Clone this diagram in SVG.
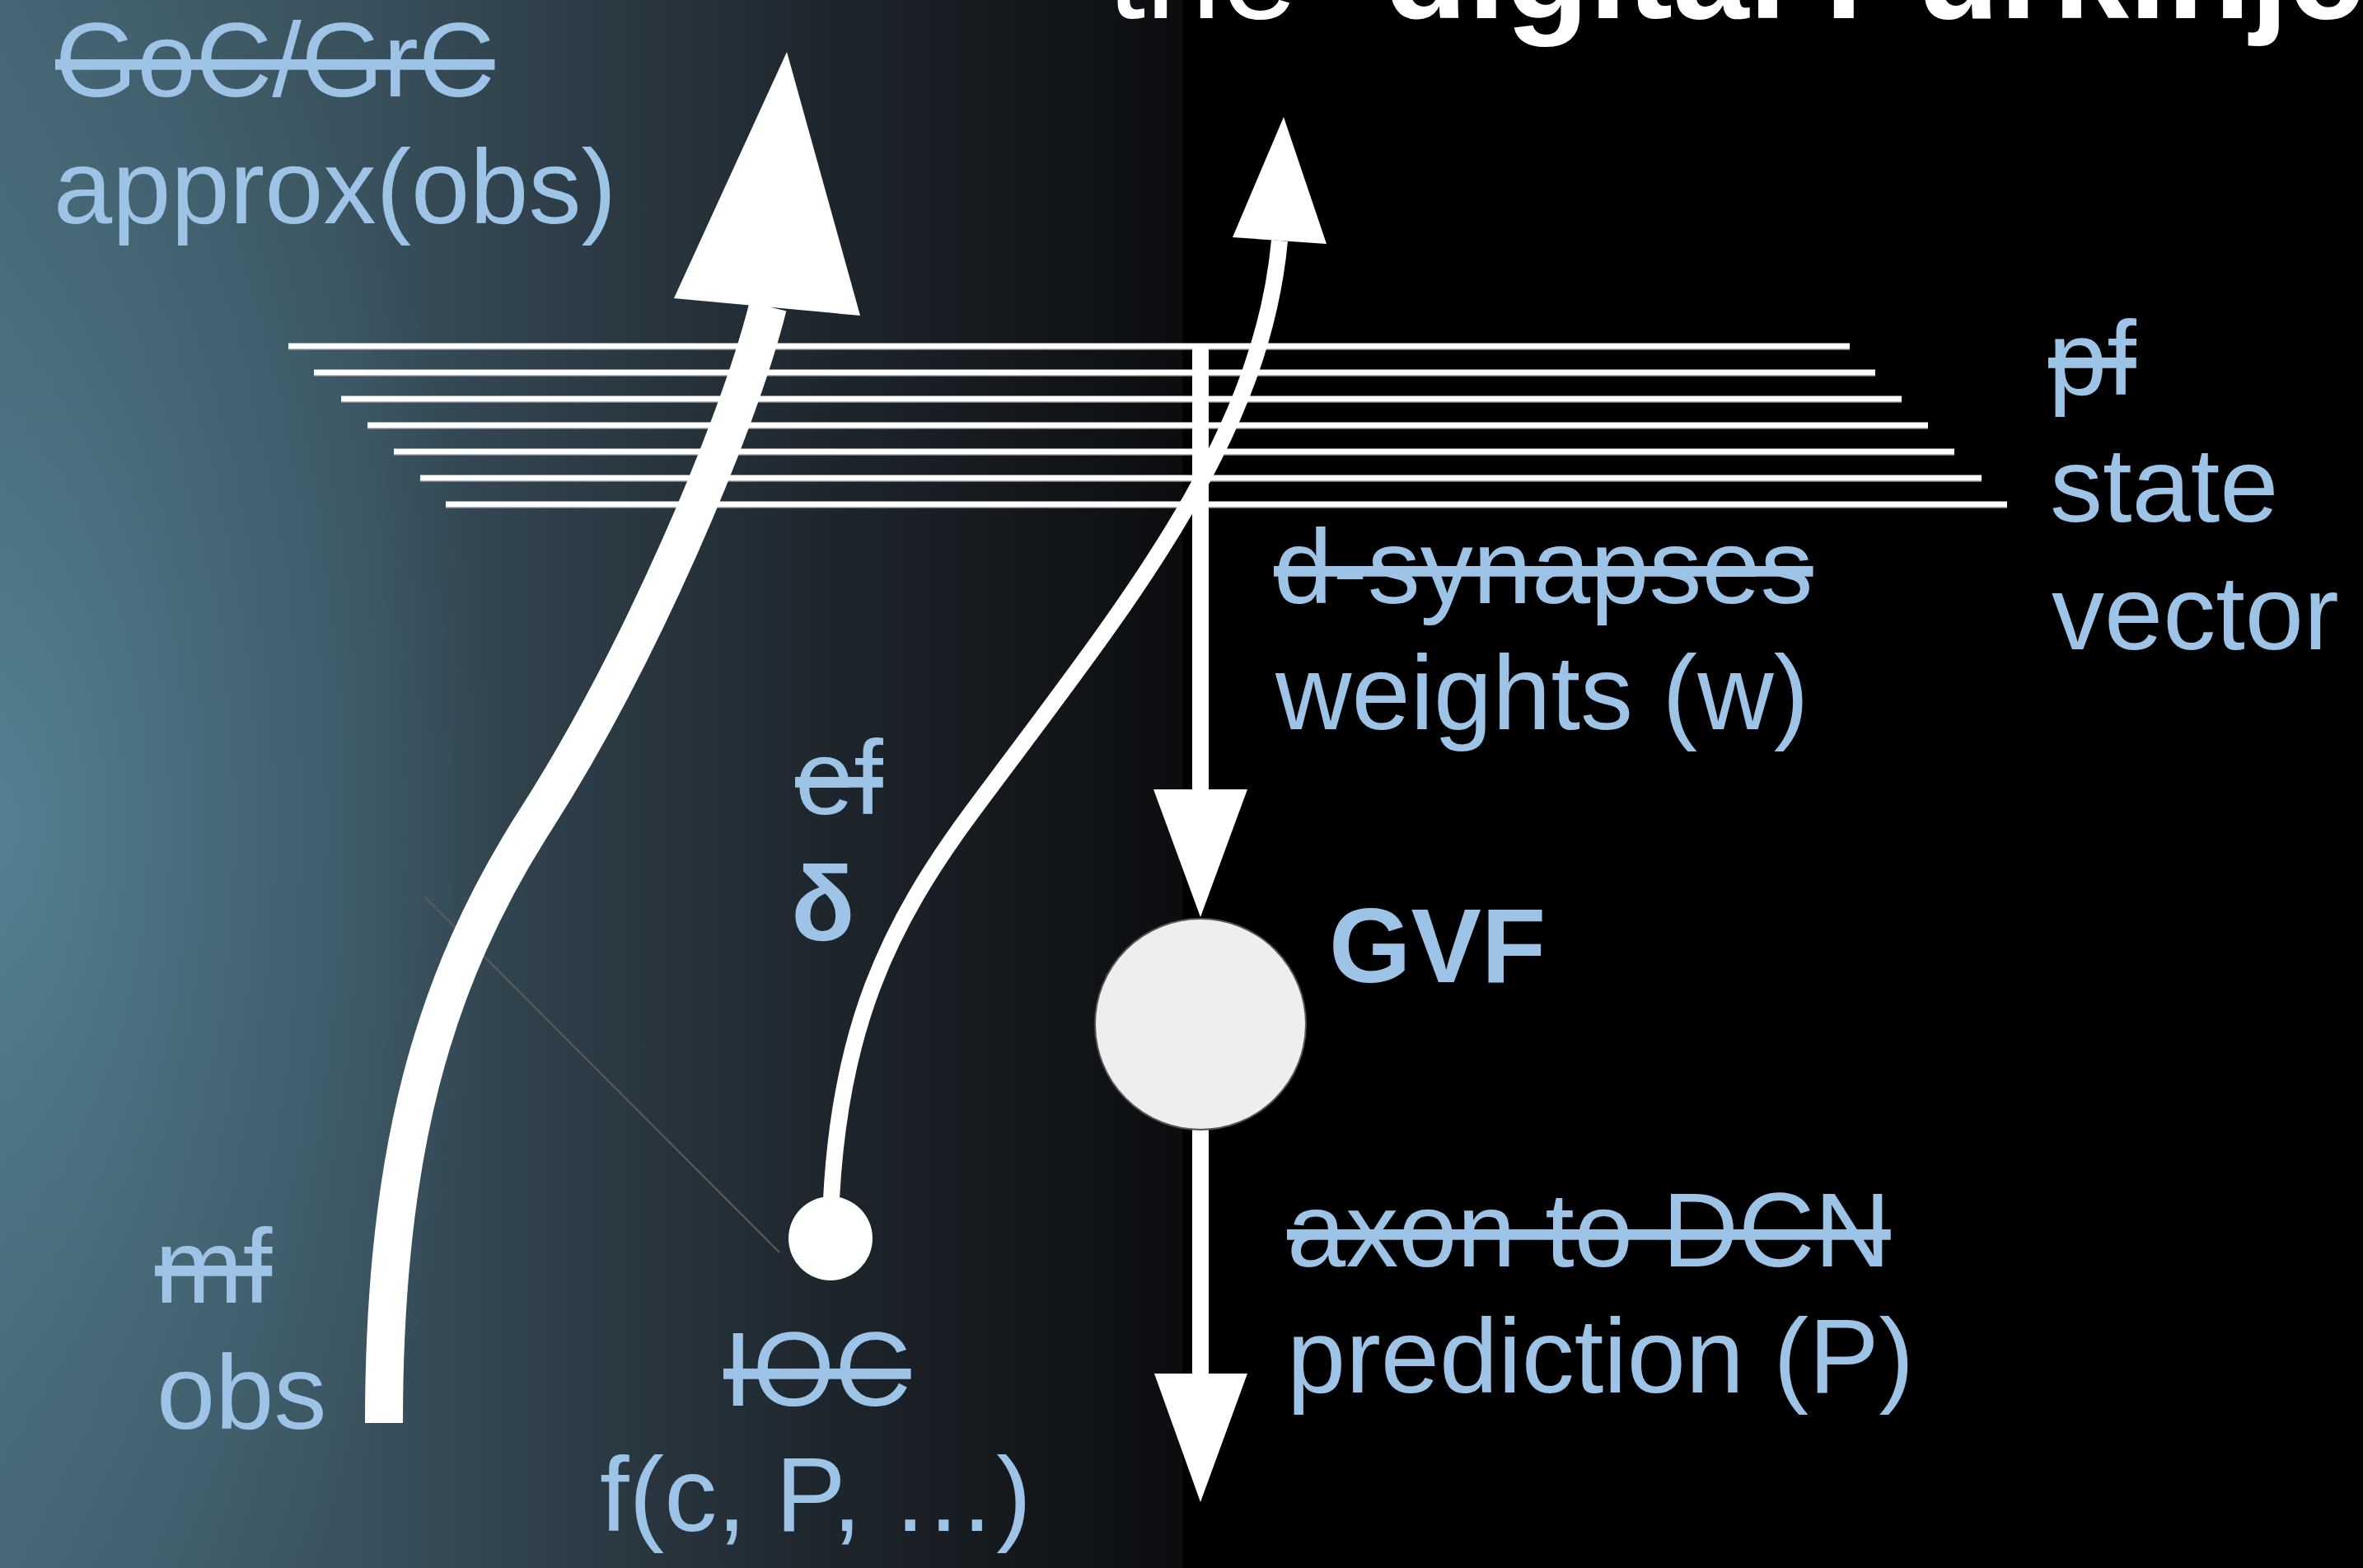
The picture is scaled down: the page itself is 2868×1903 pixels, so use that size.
<svg xmlns="http://www.w3.org/2000/svg" width="2868" height="1903" viewBox="0 0 2868 1903">
<defs>
<linearGradient id="bgL" x1="0" y1="0" x2="1435" y2="0" gradientUnits="userSpaceOnUse">
<stop offset="0" stop-color="#44636f"/>
<stop offset="0.3" stop-color="#3a525e"/>
<stop offset="0.5" stop-color="#2c3b45"/>
<stop offset="0.7" stop-color="#1e262d"/>
<stop offset="0.85" stop-color="#15191e"/>
<stop offset="1" stop-color="#0b0d10"/>
</linearGradient>
<radialGradient id="bgR" cx="0" cy="1000" r="800" gradientUnits="userSpaceOnUse" gradientTransform="translate(0 1000) scale(0.75 1.45) translate(0 -1000)">
<stop offset="0" stop-color="#62a0b6" stop-opacity="0.5"/>
<stop offset="0.6" stop-color="#5a8ea2" stop-opacity="0.22"/>
<stop offset="1" stop-color="#5a8ea2" stop-opacity="0"/>
</radialGradient>
<style>
.lbl{font-family:"Liberation Sans",Arial,sans-serif;font-size:128px;fill:#9dc3e6}
.b{font-weight:bold}
.st{text-decoration:line-through}
.pf{stroke:#ffffff;stroke-width:7;fill:none}
.pfs{stroke:#8a8f94;stroke-width:1.5;fill:none}
.w{fill:#ffffff}
</style>
</defs>
<rect x="0" y="0" width="2868" height="1903" fill="#000000"/>
<rect x="0" y="0" width="1435" height="1903" fill="url(#bgL)"/>
<rect x="0" y="0" width="1435" height="1903" fill="url(#bgR)"/>

<text id="title" x="1344" y="22" font-family="'Liberation Sans',Arial,sans-serif" font-size="166" fill="#ffffff">the "<tspan font-weight="bold">digital Purkinje</tspan></text>

<g id="connectors">
<line x1="516" y1="1089" x2="946" y2="1520" stroke="#5c5c5c" stroke-width="2"/>
<g id="parallel-fibers">
<line class="pfs" x1="350" y1="424" x2="2245" y2="424"/><line class="pf" x1="350" y1="420" x2="2245" y2="420"/>
<line class="pfs" x1="381" y1="456" x2="2276" y2="456"/><line class="pf" x1="381" y1="452" x2="2276" y2="452"/>
<line class="pfs" x1="414" y1="488" x2="2308" y2="488"/><line class="pf" x1="414" y1="484" x2="2308" y2="484"/>
<line class="pfs" x1="446" y1="520" x2="2340" y2="520"/><line class="pf" x1="446" y1="516" x2="2340" y2="516"/>
<line class="pfs" x1="478" y1="552" x2="2372" y2="552"/><line class="pf" x1="478" y1="548" x2="2372" y2="548"/>
<line class="pfs" x1="510" y1="584" x2="2405" y2="584"/><line class="pf" x1="510" y1="580" x2="2405" y2="580"/>
<line class="pfs" x1="541" y1="616" x2="2436" y2="616"/><line class="pf" x1="541" y1="612" x2="2436" y2="612"/>
</g>
<g id="dendrite">
<line x1="1457" y1="420" x2="1457" y2="962" stroke="#ffffff" stroke-width="20"/>
<polygon class="w" points="1400,958 1514,958 1457,1113"/>
</g>
<g id="axon">
<line x1="1457" y1="1370" x2="1457" y2="1670" stroke="#ffffff" stroke-width="20"/>
<polygon class="w" points="1401,1667 1514,1667 1457,1823"/>
</g>
<g id="mossy-fiber">
<path d="M 466 1727 C 466 1400, 525 1190, 650 995 C 775 800, 895 520, 932 372" stroke="#ffffff" stroke-width="46" fill="none"/>
<polygon class="w" points="955,63 1044,383 818,362"/>
</g>
<g id="climbing-fiber">
<path d="M 1008 1480 C 1015 1250, 1080 1120, 1180 985 C 1360 742, 1530 540, 1553 292" stroke="#ffffff" stroke-width="20" fill="none"/>
<polygon class="w" points="1558,142 1610,296 1496,288"/>
</g>
</g>

<g id="node-gvf">
<circle cx="1457" cy="1243" r="128" fill="#eeeeee" stroke="#555555" stroke-width="2"/>
</g>
<g id="node-ioc">
<circle cx="1008" cy="1503" r="51" fill="#ffffff"/>
</g>

<g id="labels">
<g id="label-grc"><text class="lbl st" x="67" y="117">GoC/GrC</text><text class="lbl" x="65" y="271">approx(obs)</text></g>
<g id="label-pf"><text class="lbl st" x="2486" y="479">pf</text><text class="lbl" x="2488" y="633">state</text><text class="lbl" x="2490" y="788">vector</text></g>
<g id="label-dsyn"><text class="lbl st" x="1546" y="732">d-synapses</text><text class="lbl" x="1548" y="885">weights (w)</text></g>
<g id="label-ef"><text class="lbl st" x="965" y="988">ef</text><text class="lbl b" x="960" y="1141">δ</text></g>
<g id="label-gvf"><text class="lbl b" x="1613" y="1192">GVF</text></g>
<g id="label-axon"><text class="lbl st" x="1562" y="1537">axon to DCN</text><text class="lbl" x="1562" y="1690">prediction (P)</text></g>
<g id="label-mf"><text class="lbl st" x="188" y="1581">mf</text><text class="lbl" x="190" y="1734">obs</text></g>
<g id="label-ioc"><text class="lbl st" x="878" y="1706">IOC</text><text class="lbl" x="728" y="1858">f(c, P, …)</text></g>
</g>
</svg>
